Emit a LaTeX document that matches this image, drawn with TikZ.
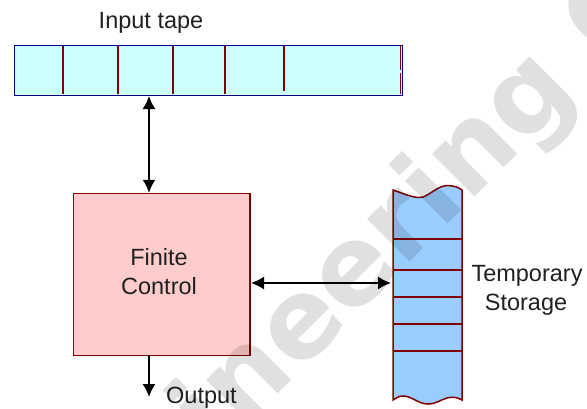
\documentclass[tikz,border=0pt]{standalone}
\usepackage{fontspec}
\setmainfont{Liberation Sans}
\newfontfamily\markfont{DejaVu Sans}
\usetikzlibrary{arrows.meta}
\definecolor{tapefill}{HTML}{CCFFFF}
\definecolor{tapeline}{HTML}{000080}
\definecolor{redline}{HTML}{800000}
\definecolor{ctrlfill}{HTML}{FFCCCC}
\definecolor{storefill}{HTML}{99CCFF}
\definecolor{labelcol}{HTML}{202020}
\tikzset{
  x=1pt,y=-1pt,
  label text/.style={font=\fontsize{23.5}{29}\selectfont,text=labelcol,inner sep=0pt,align=center},
  tapebox/.style={draw=tapeline,fill=tapefill,line width=1.3pt,minimum width=388pt,minimum height=50pt,inner sep=0pt,anchor=north west},
  divider/.style={draw=redline,line width=1.8pt},
  ctrlbox/.style={draw=redline,fill=ctrlfill,line width=1.5pt,minimum width=176.5pt,minimum height=162pt,inner sep=0pt,anchor=north west},
  link/.style={draw=black,line width=1.5pt,-{Latex[length=13pt,width=13pt]}},
  duplex/.style={draw=black,line width=1.5pt,{Latex[length=13pt,width=13pt]}-{Latex[length=13pt,width=13pt]}},
}
\begin{document}
\begin{tikzpicture}
\useasboundingbox (0,0) rectangle (587,408);
\fill[white] (0,0) rectangle (587,408);
% tape
\node[tapebox] (tape) at (13.6,44.6) {};
\foreach \x in {63,118,173,225}{\draw[divider] (\x,45.7) -- (\x,93.7);}
\draw[divider] (284,45.7) -- (284,91);
\draw[divider] (400.5,45) -- (400.5,70) (400.5,73) -- (400.5,94);
\node[label text,anchor=base] (tapelabel) at (151,28) {Input tape};
% control
\node[ctrlbox] (ctrl) at (72.75,192.75) {};
\node[label text,anchor=base] (finite) at (159,265) {Finite};
\node[label text,anchor=base] (controlw) at (159,294) {Control};
% storage
\path[fill=storefill,draw=redline,line width=1.5pt] (393,190)
  .. controls (405,194) and (415,199) .. (423,197)
  .. controls (431,194) and (438,186) .. (447,185.5)
  .. controls (453,185.5) and (458,187) .. (462,190)
  -- (462,400)
  .. controls (457,397) and (452,396.5) .. (447,398)
  .. controls (440,400) and (436,404) .. (428,404)
  .. controls (418,404) and (412,396) .. (403,396)
  .. controls (399,396) and (396,398) .. (393,400) -- cycle;
\coordinate (storeW) at (391,283);
\foreach \y in {239,270,297,324,351}{\draw[divider] (393,\y) -- (462,\y);}
\node[label text,anchor=base] (temp) at (527,281) {Temporary};
\node[label text,anchor=base] (stor) at (526,310) {Storage};
% connectors
\draw[duplex] (149,96) -- (ctrl.north -| 149,0);
\coordinate (ctrlE) at (251,283);
\draw[duplex] (ctrlE) -- (storeW);
\coordinate (outEnd) at (149,397);
\draw[link] (149,354.5) -- (outEnd);
\node[label text,anchor=base west] (output) at (166,403) {Output};
% watermark
\begin{scope}
\clip (0,0) rectangle (587,408);
\node[font=\markfont\bfseries\fontsize{110}{110}\selectfont,text=black,text opacity=.12,rotate=45,anchor=base west,inner sep=0pt] (mark) at (215.8,456.2) {ineering C};
\end{scope}
\end{tikzpicture}
\end{document}
